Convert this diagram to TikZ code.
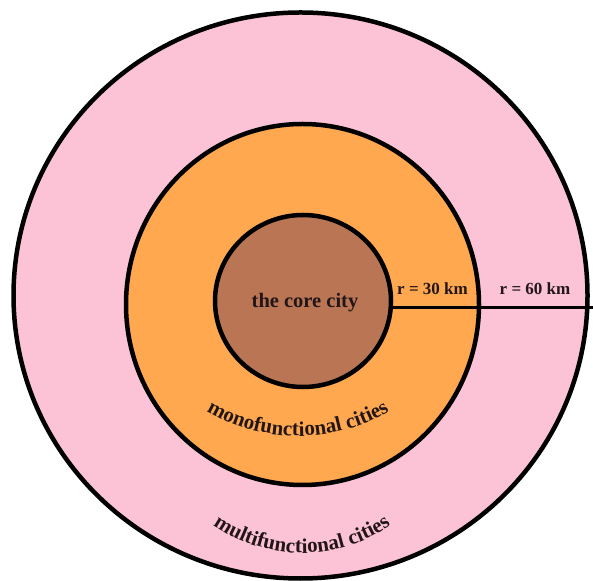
\documentclass[tikz,border=0pt]{standalone}
\usepackage{fontspec}
\setmainfont{Liberation Serif}
\usetikzlibrary{shapes.geometric,decorations.text}
\definecolor{pinkc}{RGB}{252,194,214}
\definecolor{orangec}{RGB}{255,168,80}
\definecolor{brownc}{RGB}{186,118,84}
\definecolor{txt}{RGB}{35,22,24}
\def\arcfont{\fontsize{21}{24}\selectfont\bfseries}
\tikzset{
  ring/.style={ellipse, draw=black, line width=4.5pt, inner sep=0pt, outer sep=0pt},
  lbl/.style={text=txt, font=\bfseries\fontsize{20.5}{24}\selectfont, inner sep=0pt},
  rlbl/.style={text=txt, font=\bfseries\fontsize{17}{20}\selectfont, inner sep=0pt, anchor=base},
  arctext/.style={decorate, decoration={text along path, text align=center, text color=txt}}
}
\begin{document}
\begin{tikzpicture}[x=1pt,y=1pt]
\useasboundingbox (0,0) rectangle (593,580);
\fill[white] (0,0) rectangle (593,580);
\node[ring, fill=pinkc, minimum width=574pt, minimum height=566pt] (outer) at (300.5,284.5) {};
\node[ring, fill=orangec, minimum width=353pt, minimum height=361pt] (middle) at (302.5,275.5) {};
\node[ring, fill=brownc, minimum width=176pt, minimum height=172pt] (inner) at (303,279) {};
\coordinate (rightend) at (593,274);
\draw[line width=3pt] (inner.-4) -- (inner.-4 -| rightend);
\node[lbl, anchor=base] (core) at (305,272) {the core city};
\node[rlbl] (r30) at (432.5,285) {r = 30 km};
\node[rlbl] (r60) at (535,285) {r = 60 km};
\path[arctext, decoration={text={|\arcfont|monofunctional cities}}]
  (298,324) ++(225:180) arc[start angle=225, end angle=315, radius=180];
\path[arctext, decoration={text={|\arcfont|multifunctional cities}}]
  (302,182) ++(220:155) arc[start angle=220, end angle=320, radius=155];
\end{tikzpicture}
\end{document}
